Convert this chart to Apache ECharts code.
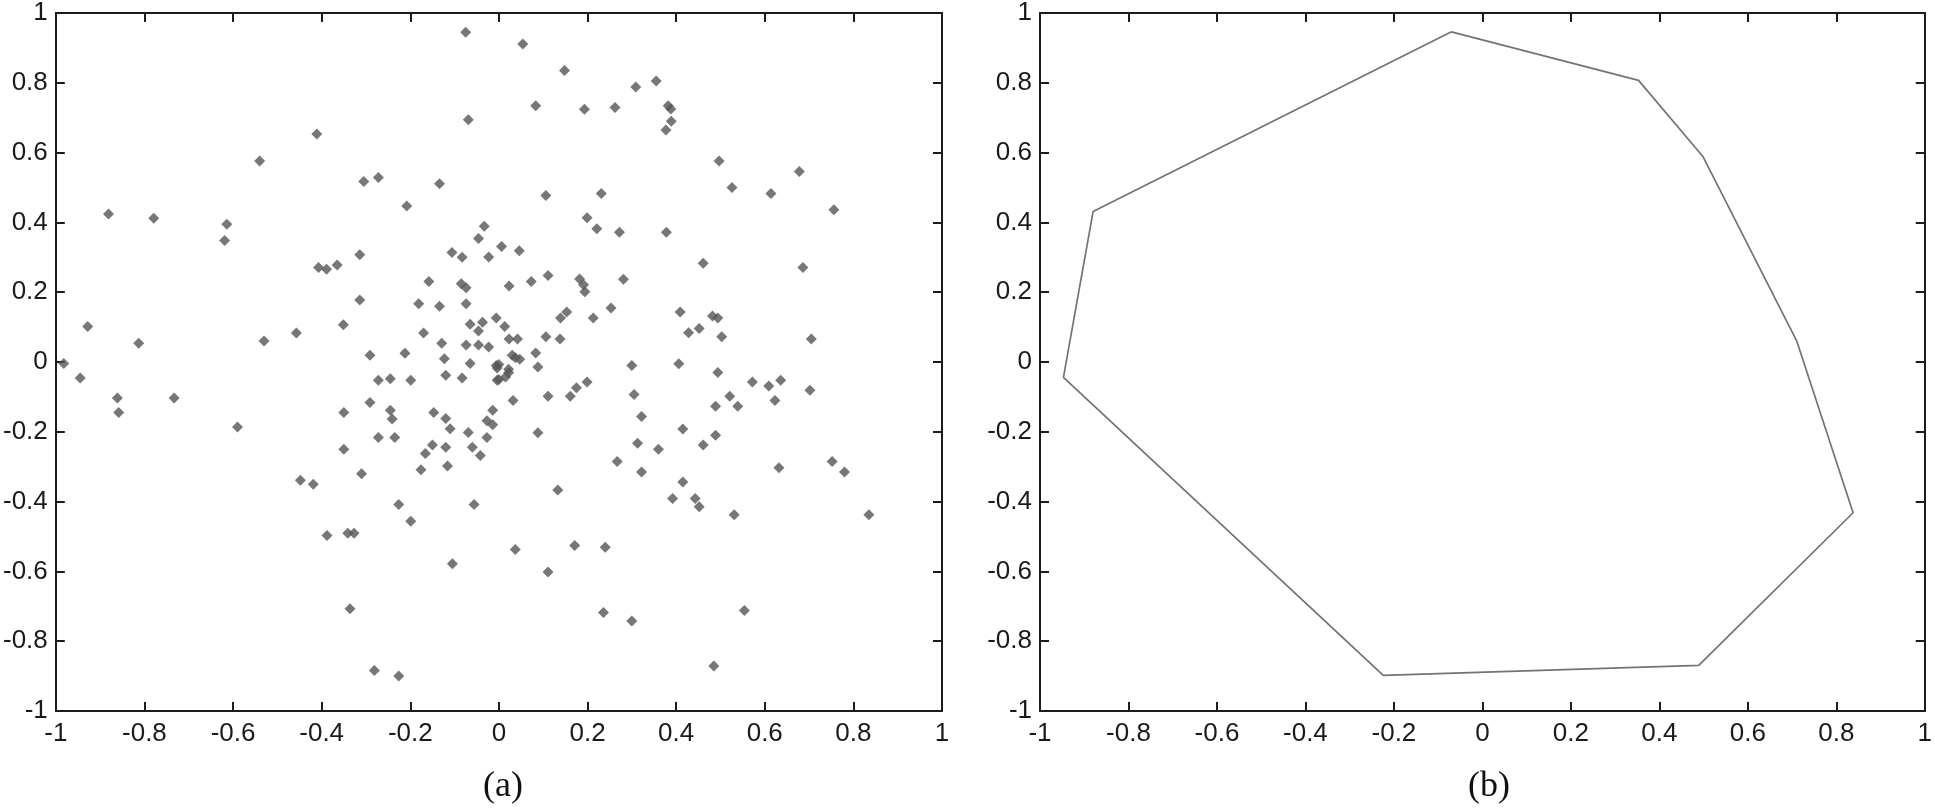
<!DOCTYPE html>
<html>
<head>
<meta charset="utf-8">
<title>scatter and hull</title>
<script src="https://cdn.jsdelivr.net/npm/echarts@6/dist/echarts.min.js"></script>
<style>
  html, body { margin: 0; padding: 0; background: #fff; }
  #chart { width: 1935px; height: 811px; }
</style>
</head>
<body>
<div id="chart"></div>
<script>
// (a) sample points
const pointsX = [
  -0.075, -0.069, -0.411, -0.540, -0.305, -0.272, -0.134, -0.208, -0.881, -0.779,
  -0.614, -0.619, -0.033, -0.046, -0.106, -0.083, -0.023, 0.006, -0.314, -0.407,
  -0.389, -0.365, -0.158, -0.085, -0.074, -0.314, -0.181, -0.134, -0.074, -0.006,
  -0.928, -0.813, -0.530, -0.457, -0.351, -0.170, -0.065, -0.037, -0.046, -0.129,
  -0.074, -0.046, -0.023, -0.291, -0.212, -0.123, -0.065, -0.006, -0.982,
  0.054, 0.148, 0.309, 0.355, 0.083, 0.193, 0.262, 0.382, 0.388, 0.389,
  0.377, 0.497, 0.678, 0.526, 0.614, 0.756, 0.106, 0.231, 0.199, 0.221,
  0.272, 0.378, 0.046, 0.461, 0.686, 0.023, 0.073, 0.111, 0.182, 0.191,
  0.194, 0.281, 0.013, 0.023, 0.042, 0.106, 0.138, 0.139, 0.153, 0.213,
  0.253, 0.409, 0.428, 0.452, 0.482, 0.494, 0.503, 0.705, 0.000, 0.030,
  0.047, 0.083, 0.088, 0.300, 0.406, 0.022, 0.494, 0.037,
  -0.945, -0.861, -0.858, -0.733, -0.590, -0.448, -0.419, -0.388, -0.341, -0.327,
  -0.336, -0.281, -0.226, -0.350, -0.350, -0.310, -0.291, -0.272, -0.245, -0.199,
  -0.245, -0.241, -0.272, -0.235, -0.226, -0.199, -0.176, -0.166, -0.150, -0.147,
  -0.120, -0.120, -0.110, -0.120, -0.116, -0.105, -0.083, -0.069, -0.060, -0.042,
  -0.056, -0.027, -0.027, -0.014, -0.014, -0.004, -0.004,
  0.000, 0.015, 0.022, 0.032, 0.111, 0.088, 0.161, 0.175, 0.199, 0.133,
  0.037, 0.111, 0.171, 0.240, 0.236, 0.300, 0.305, 0.322, 0.313, 0.267,
  0.322, 0.360, 0.415, 0.415, 0.392, 0.443, 0.452, 0.461, 0.489, 0.489,
  0.521, 0.539, 0.531, 0.554, 0.485, 0.572, 0.609, 0.636, 0.623, 0.632,
  0.702, 0.752, 0.780, 0.835
];
const pointsY = [
  0.945, 0.694, 0.653, 0.576, 0.517, 0.529, 0.511, 0.447, 0.424, 0.412,
  0.395, 0.348, 0.389, 0.354, 0.314, 0.300, 0.301, 0.331, 0.307, 0.271,
  0.266, 0.278, 0.231, 0.224, 0.213, 0.178, 0.167, 0.160, 0.167, 0.126,
  0.102, 0.054, 0.060, 0.083, 0.107, 0.083, 0.108, 0.114, 0.089, 0.054,
  0.049, 0.049, 0.043, 0.019, 0.025, 0.009, -0.004, -0.010, -0.004,
  0.911, 0.835, 0.788, 0.805, 0.734, 0.724, 0.729, 0.734, 0.725, 0.690,
  0.665, 0.576, 0.546, 0.500, 0.483, 0.436, 0.477, 0.483, 0.413, 0.382,
  0.372, 0.372, 0.319, 0.283, 0.271, 0.218, 0.231, 0.248, 0.238, 0.221,
  0.201, 0.237, 0.102, 0.066, 0.066, 0.072, 0.066, 0.126, 0.143, 0.126,
  0.155, 0.143, 0.084, 0.096, 0.132, 0.126, 0.072, 0.066, -0.007, 0.019,
  0.008, 0.026, -0.014, -0.010, -0.005, -0.021, -0.030, 0.012,
  -0.046, -0.103, -0.145, -0.103, -0.186, -0.339, -0.350, -0.497, -0.491, -0.491,
  -0.707, -0.884, -0.900, -0.145, -0.250, -0.320, -0.116, -0.052, -0.048, -0.052,
  -0.138, -0.163, -0.216, -0.216, -0.408, -0.456, -0.309, -0.262, -0.238, -0.145,
  -0.038, -0.162, -0.191, -0.244, -0.298, -0.578, -0.046, -0.202, -0.244, -0.268,
  -0.408, -0.216, -0.168, -0.180, -0.138, -0.052, -0.017,
  -0.050, -0.043, -0.031, -0.110, -0.098, -0.203, -0.098, -0.074, -0.057, -0.367,
  -0.537, -0.602, -0.526, -0.531, -0.718, -0.742, -0.093, -0.156, -0.233, -0.285,
  -0.315, -0.250, -0.192, -0.344, -0.391, -0.391, -0.415, -0.238, -0.210, -0.127,
  -0.098, -0.127, -0.438, -0.712, -0.871, -0.057, -0.069, -0.052, -0.110, -0.303,
  -0.081, -0.285, -0.315, -0.438
];

// (b) outline vertices, in drawing order
const hullX = [-0.070, 0.353, 0.499, 0.711, 0.838, 0.489, -0.224, -0.947, -0.880];
const hullY = [0.946, 0.807, 0.588, 0.059, -0.432, -0.869, -0.898, -0.044, 0.431];

const axisMin = -1;
const axisMax = 1;
const axisStep = 0.2;
const captions = ['(a)', '(b)'];

const scatterData = pointsX.map((x, i) => [x, pointsY[i]]);
const hullData = hullX.map((x, i) => [x, hullY[i]]);
hullData.push(hullData[0]); // close the outline

const inkColor = '#1c1c1c';
const labelFont = { fontFamily: 'Liberation Sans, Arial, sans-serif', fontSize: 26, color: '#1a1a1a' };
const captionFont = { fontFamily: 'Liberation Serif, Times New Roman, serif', fontSize: 36, fontWeight: 'normal', color: '#111' };

function makeAxis(gridIndex, position, labels) {
  return {
    type: 'value',
    gridIndex: gridIndex,
    position: position,
    min: axisMin,
    max: axisMax,
    interval: axisStep,
    axisLine: { show: true, onZero: false, lineStyle: { color: inkColor, width: 2 } },
    axisTick: { show: true, inside: true, length: 9, lineStyle: { color: inkColor, width: 2 } },
    splitLine: { show: false },
    axisLabel: Object.assign({
      show: labels,
      margin: position === 'bottom' ? 10 : 8,
      showMinLabel: true,
      showMaxLabel: true
    }, labelFont)
  };
}

const chart = echarts.init(document.getElementById('chart'), null, { renderer: 'canvas' });

const option = {
  animation: false,
  backgroundColor: '#fff',
  title: [
    { text: captions[0], left: 498, top: 764, textAlign: 'center', textStyle: captionFont },
    { text: captions[1], left: 1484, top: 764, textAlign: 'center', textStyle: captionFont }
  ],
  grid: [
    { left: 54, top: 11, width: 888, height: 700 },
    { left: 1040, top: 11, width: 888, height: 700 }
  ],
  xAxis: [
    makeAxis(0, 'bottom', true),
    makeAxis(0, 'top', false),
    makeAxis(1, 'bottom', true),
    makeAxis(1, 'top', false)
  ],
  yAxis: [
    makeAxis(0, 'left', true),
    makeAxis(0, 'right', false),
    makeAxis(1, 'left', true),
    makeAxis(1, 'right', false)
  ],
  series: [
    {
      type: 'scatter',
      xAxisIndex: 0,
      yAxisIndex: 0,
      symbol: 'diamond',
      symbolSize: 11,
      itemStyle: { color: '#555' },
      data: scatterData
    },
    {
      type: 'line',
      xAxisIndex: 2,
      yAxisIndex: 2,
      symbol: 'none',
      smooth: false,
      lineStyle: { color: '#737373', width: 1.7 },
      data: hullData
    }
  ]
};

chart.setOption(option);
</script>
</body>
</html>
